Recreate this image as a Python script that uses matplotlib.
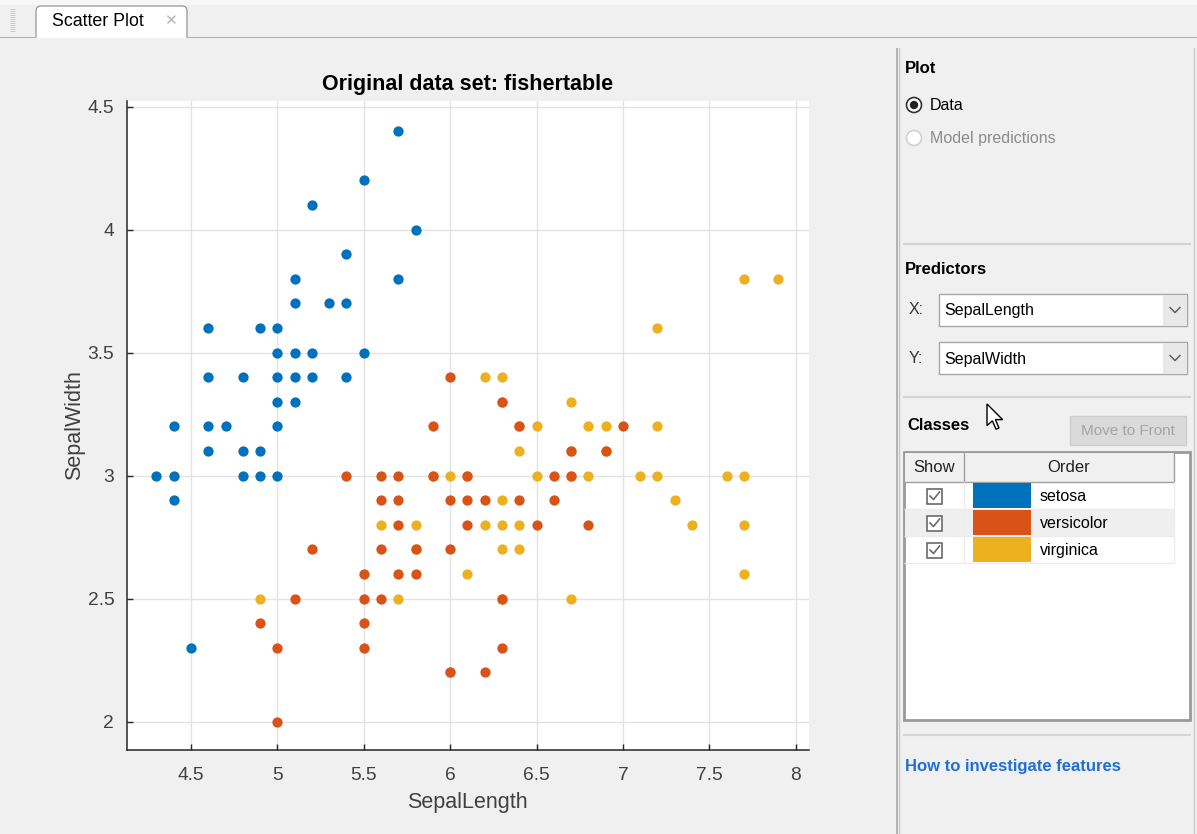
import numpy as np
import matplotlib
matplotlib.use("Agg")
from matplotlib import pyplot as plt
from matplotlib.patches import Rectangle, Circle, Polygon, FancyBboxPatch

# Fisher iris, sepal length / sepal width per class
setosa_x = [5.1, 4.9, 4.7, 4.6, 5.0, 5.4, 4.6, 5.0, 4.4, 4.9, 5.4, 4.8, 4.8, 4.3, 5.8, 5.7, 5.4,
            5.1, 5.7, 5.1, 5.4, 5.1, 4.6, 5.1, 4.8, 5.0, 5.0, 5.2, 5.2, 4.7, 4.8, 5.4, 5.2, 5.5,
            4.9, 5.0, 5.5, 4.9, 4.4, 5.1, 5.0, 4.5, 4.4, 5.0, 5.1, 4.8, 5.1, 4.6, 5.3, 5.0]
setosa_y = [3.5, 3.0, 3.2, 3.1, 3.6, 3.9, 3.4, 3.4, 2.9, 3.1, 3.7, 3.4, 3.0, 3.0, 4.0, 4.4, 3.9,
            3.5, 3.8, 3.8, 3.4, 3.7, 3.6, 3.3, 3.4, 3.0, 3.4, 3.5, 3.4, 3.2, 3.1, 3.4, 4.1, 4.2,
            3.1, 3.2, 3.5, 3.6, 3.0, 3.4, 3.5, 2.3, 3.2, 3.5, 3.8, 3.0, 3.8, 3.2, 3.7, 3.3]

versicolor_x = [7.0, 6.4, 6.9, 5.5, 6.5, 5.7, 6.3, 4.9, 6.6, 5.2, 5.0, 5.9, 6.0, 6.1, 5.6, 6.7, 5.6,
                5.8, 6.2, 5.6, 5.9, 6.1, 6.3, 6.1, 6.4, 6.6, 6.8, 6.7, 6.0, 5.7, 5.5, 5.5, 5.8, 6.0,
                5.4, 6.0, 6.7, 6.3, 5.6, 5.5, 5.5, 6.1, 5.8, 5.0, 5.6, 5.7, 5.7, 6.2, 5.1, 5.7]
versicolor_y = [3.2, 3.2, 3.1, 2.3, 2.8, 2.8, 3.3, 2.4, 2.9, 2.7, 2.0, 3.0, 2.2, 2.9, 2.9, 3.1, 3.0,
                2.7, 2.2, 2.5, 3.2, 2.8, 2.5, 2.8, 2.9, 3.0, 2.8, 3.0, 2.9, 2.6, 2.4, 2.4, 2.7, 2.7,
                3.0, 3.4, 3.1, 2.3, 3.0, 2.5, 2.6, 3.0, 2.6, 2.3, 2.7, 3.0, 2.9, 2.9, 2.5, 2.8]

virginica_x = [6.3, 5.8, 7.1, 6.3, 6.5, 7.6, 4.9, 7.3, 6.7, 7.2, 6.5, 6.4, 6.8, 5.7, 5.8, 6.4, 6.5,
               7.7, 7.7, 6.0, 6.9, 5.6, 7.7, 6.3, 6.7, 7.2, 6.2, 6.1, 6.4, 7.2, 7.4, 7.9, 6.4, 6.3,
               6.1, 7.7, 6.3, 6.4, 6.0, 6.9, 6.7, 6.9, 5.8, 6.8, 6.7, 6.7, 6.3, 6.5, 6.2, 5.9]
virginica_y = [3.3, 2.7, 3.0, 2.9, 3.0, 3.0, 2.5, 2.9, 2.5, 3.6, 3.2, 2.7, 3.0, 2.5, 2.8, 3.2, 3.0,
               3.8, 2.6, 2.2, 3.2, 2.8, 2.8, 2.7, 3.3, 3.2, 2.8, 3.0, 2.8, 3.0, 2.8, 3.8, 2.8, 2.8,
               2.6, 3.0, 3.4, 3.1, 3.0, 3.1, 3.1, 3.1, 2.7, 3.2, 3.3, 3.0, 2.5, 3.0, 3.4, 3.0]

class_names = ["setosa", "versicolor", "virginica"]
class_colors = ["#0072BD", "#D95319", "#EDB120"]
x_ticks = [4.5, 5, 5.5, 6, 6.5, 7, 7.5, 8]
x_tick_labels = ["4.5", "5", "5.5", "6", "6.5", "7", "7.5", "8"]
y_ticks = [2, 2.5, 3, 3.5, 4, 4.5]
y_tick_labels = ["2", "2.5", "3", "3.5", "4", "4.5"]

W, H = 1197, 834
BG = "#f0f0f0"
FONT = "Liberation Sans"
plt.rcParams["font.family"] = [FONT, "DejaVu Sans"]

fig = plt.figure(figsize=(W / 100, H / 100), dpi=100, facecolor=BG)

# ---- UI layer in pixel coordinates
ui = fig.add_axes([0, 0, 1, 1], zorder=0)
ui.set_xlim(0, W)
ui.set_ylim(H, 0)
ui.axis("off")


def rect(x0, y0, x1, y1, fc, ec="none", lw=1.0, z=1):
    ui.add_patch(Rectangle((x0, y0), x1 - x0, y1 - y0, facecolor=fc, edgecolor=ec, lw=lw, zorder=z))


def hline(y, x0, x1, color, lw=1.0, z=2):
    ui.plot([x0, x1], [y, y], color=color, lw=lw, zorder=z, solid_capstyle="butt")


def vline(x, y0, y1, color, lw=1.0, z=2):
    ui.plot([x, x], [y0, y1], color=color, lw=lw, zorder=z, solid_capstyle="butt")


def label(x, y, s, size=12, weight="normal", color="black", ha="left"):
    ui.text(x, y, s, fontsize=size, fontweight=weight, color=color, ha=ha, va="center", zorder=5)


# tab strip
rect(0, 0, W, 5, "#f8f8f8")
hline(37.5, 0, 35, "#a0a0a0", 1.2)
hline(37.5, 188, W, "#a0a0a0", 1.2)
for yy in range(9, 33, 2):
    hline(yy, 10, 15, "#c4c4c4", 0.6)
tab = FancyBboxPatch((36, 6), 151, 40, boxstyle="round,pad=0,rounding_size=5",
                     facecolor="white", edgecolor="#a0a0a0", lw=1.0, zorder=3)
ui.add_patch(tab)
rect(36.6, 37, 186.4, 48, "white", z=4)
rect(0, 38.2, W, 48, BG, z=4)
label(52, 21, "Scatter Plot", 12.8)
ui.text(170, 21, "\u2715", fontsize=11, color="#b4b4b4", ha="center", va="center",
        family="DejaVu Sans", zorder=5)

# right-hand panel
vline(896.8, 38, H, "#a8a8a8", 1.2)
vline(898.6, 42, H, "#c8c8c8", 1.0)
hline(42, 898, 1194, "#c8c8c8", 1.0)
vline(1194, 42, H, "#c8c8c8", 1.0)

label(905, 68, "Plot", 12, "bold")
ui.add_patch(Circle((914, 105), 7.5, facecolor="white", edgecolor="#333333", lw=1.2, zorder=4))
ui.add_patch(Circle((914, 105), 4.2, facecolor="#222222", edgecolor="none", zorder=5))
label(930, 105, "Data", 11.5)
ui.add_patch(Circle((914, 138), 7.5, facecolor="white", edgecolor="#d2d2d2", lw=1.2, zorder=4))
label(930, 138, "Model predictions", 11.5, color="#8c8c8c")
hline(244, 903, 1191, "#d4d4d4", 1.5)

label(905, 269, "Predictors", 12, "bold")
for cy, axis_name, value in [(310, "X:", "SepalLength"), (358, "Y:", "SepalWidth")]:
    label(909, cy, axis_name, 11.5, color="#333333")
    rect(939, cy - 16, 1187, cy + 16, "white", "#a8a8a8", 1.0, z=3)
    rect(1163, cy - 15.5, 1186.5, cy + 15.5, "#e8e8e8", z=3)
    ui.plot([1170, 1175, 1180], [cy - 2.5, cy + 2.5, cy - 2.5], color="#555555", lw=1.0, zorder=4)
    label(944, cy + 1, value, 11.5)
hline(397, 903, 1191, "#d4d4d4", 1.5)

label(907, 425, "Classes", 12, "bold")
rect(1070, 416, 1186, 445, "#dadada", "#cdcdcd", 1.0, z=3)
label(1128, 431, "Move to Front", 11, color="#a4a4a4", ha="center")

# class table
rect(903.5, 451.5, 1190, 719.5, "white", "#9a9a9a", 2.0, z=3)
rect(904.5, 452.5, 1174, 482, "#f0f0f0", z=3)
vline(1174, 452, 482, "#a0a0a0", 1.0, z=4)
vline(963.5, 452, 482, "#a0a0a0", 1.0, z=4)
hline(482, 904, 1174, "#a0a0a0", 1.0, z=4)
label(934, 467, "Show", 12, ha="center", color="#222222")
label(1069, 467, "Order", 12, ha="center", color="#222222")
row_h = 27
for i, (name, col) in enumerate(zip(class_names, class_colors)):
    top = 482 + i * row_h
    cy = top + row_h / 2
    if i == 1:
        rect(904.5, top, 1174, top + row_h, "#efefef", z=3)
    hline(top + row_h, 904, 1174, "#ececec", 1.0, z=4)
    vline(963.5, top, top + row_h, "#ececec", 1.0, z=4)
    rect(927, cy - 7, 942, cy + 8, "white", "#6a6a6a", 1.2, z=4)
    ui.plot([930, 933.5, 939.5], [cy + 0.5, cy + 4, cy - 3.5], color="#6a6a6a", lw=1.2, zorder=5)
    rect(973, top + 1, 1031, top + row_h - 1, col, z=4)
    label(1040, cy + 1, name, 11.5)
vline(1174, 482, 563, "#ececec", 1.0, z=4)

hline(735, 903, 1191, "#d4d4d4", 1.5)
label(905, 767, "How to investigate features", 12, "bold", color="#1f6fd6")

# mouse pointer
arrow = np.array([(0, 0), (0, 18), (4.5, 14), (7.5, 21), (10, 20), (7, 13), (13, 13)]) * 1.2
arrow = arrow + np.array([987, 404])
ui.add_patch(Polygon(arrow, closed=True, facecolor="white", edgecolor="black", lw=1.0, zorder=6))

# ---- scatter axes
ax_l, ax_r, ax_t, ax_b = 126.7, 809, 100.7, 750
ax = fig.add_axes([ax_l / W, 1 - ax_b / H, (ax_r - ax_l) / W, (ax_b - ax_t) / H], zorder=1)
ax.set_facecolor("white")

# draw order puts setosa on top, virginica underneath;
# repeated measurements are drawn once so their edges don't darken
for xs, ys, col in [(virginica_x, virginica_y, class_colors[2]),
                    (versicolor_x, versicolor_y, class_colors[1]),
                    (setosa_x, setosa_y, class_colors[0])]:
    pts = np.unique(np.column_stack([xs, ys]), axis=0)
    ax.plot(pts[:, 0], pts[:, 1], "o", color=col, markersize=7.4, markeredgewidth=0, zorder=3)

ax.set_xlim(4.128, 8.077)
ax.set_ylim(1.885, 4.524)
ax.set_xticks(x_ticks)
ax.set_xticklabels(x_tick_labels)
ax.set_yticks(y_ticks)
ax.set_yticklabels(y_tick_labels)
ax.grid(True, color="#e3e3e3", lw=1.0, zorder=0)
ax.set_axisbelow(True)
for side in ["top", "right"]:
    ax.spines[side].set_visible(False)
for side in ["left", "bottom"]:
    ax.spines[side].set_color("#262626")
    ax.spines[side].set_linewidth(1.1)
ax.tick_params(direction="in", length=4, width=1.0, colors="#262626", labelsize=13.8, pad=9)
ax.tick_params(axis="x", pad=12)
for t in ax.get_xticklabels() + ax.get_yticklabels():
    t.set_color("#404040")

ax.set_xlabel("SepalLength", fontsize=15.5, color="#404040", labelpad=6)
ax.set_ylabel("SepalWidth", fontsize=15.5, color="#404040", labelpad=2)
ax.set_title("Original data set: fishertable", fontsize=15.5, fontweight="bold", pad=8)

fig.savefig("out.png", dpi=100, facecolor=BG)
